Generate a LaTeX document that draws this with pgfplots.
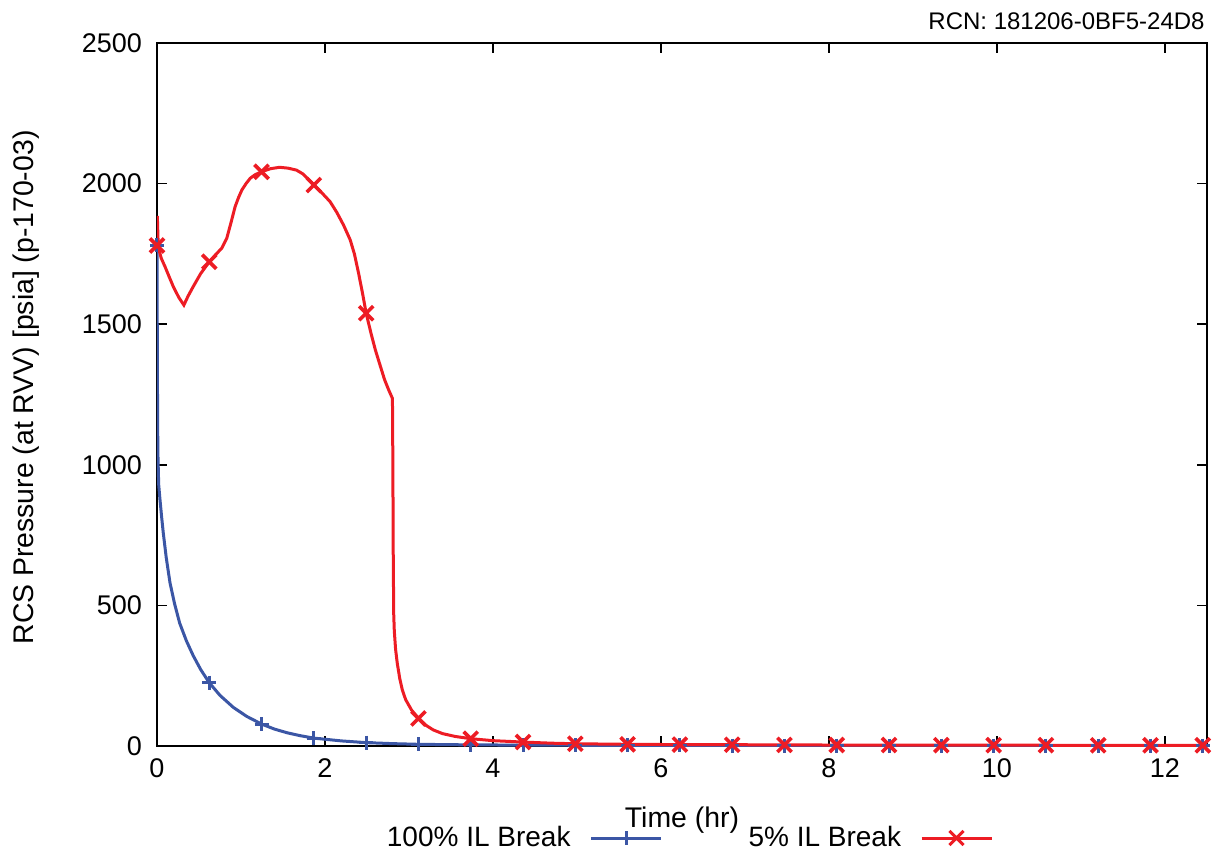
\documentclass[border=0pt]{standalone}
\usepackage{fontspec}
\setmainfont{Liberation Sans}
\usepackage{pgfplots}
\pgfplotsset{compat=1.18}
\definecolor{lblue}{RGB}{59,86,165}
\definecolor{lred}{RGB}{237,28,36}
\begin{document}
\begin{tikzpicture}
\path[use as bounding box] (-78.5pt,-56.5pt) rectangle (530pt,373pt);
\begin{axis}[
  name=ax,
  scale only axis,
  width=525pt, height=351.5pt,
  xmin=0, xmax=12.5, ymin=0, ymax=2500,
  xtick={0,2,...,12}, ytick={0,500,...,2500},
  minor tick num=0,
  tick align=inside,
  major tick length=5pt,
  tick style={black, line width=0.8pt},
  axis line style={line width=1pt},
  /pgf/number format/assume math mode=true,
  /pgf/number format/1000 sep={},
  tick label style={font=\fontsize{13.5}{16}\selectfont},
  xticklabel style={yshift=-3pt},
  yticklabel style={xshift=-4pt},
  xlabel={Time (hr)},
  ylabel={RCS Pressure (at RVV) [psia] (p-170-03)},
  label style={font=\fontsize{14.2}{16}\selectfont},
  xlabel style={at={(axis description cs:0.5,0)}, anchor=center, yshift=-37pt},
  ylabel style={at={(axis description cs:-0.1245,0.51)}, anchor=center},
  legend plot pos=right,
  legend columns=2,
  legend style={at={(0.5,0)}, anchor=center, yshift=-46pt, xshift=3pt, draw=none, fill=none,
    font=\fontsize{14}{16}\selectfont,
    /tikz/every even column/.append style={column sep=41pt}},
  legend image code/.code={\path (0pt,0pt); \draw[mark repeat=2,mark phase=2,#1] plot coordinates {(7.5pt,0pt) (25pt,0pt) (42.5pt,0pt)};},
]
% 100% IL Break
\addplot[lblue, line width=1.5pt, forget plot] coordinates {
(0,1780) (0.002,1600) (0.005,1300) (0.01,1050) (0.02,930) (0.036,875)
(0.055,815) (0.075,757) (0.11,670) (0.155,580) (0.21,505) (0.27,437)
(0.35,374) (0.43,322) (0.52,272) (0.6225,225) (0.75,180) (0.91,137)
(1.07,105) (1.245,78) (1.4,60) (1.55,47) (1.7,37) (1.8675,28) (2.2,18)
(2.49,12) (2.8,8.5) (3.1125,6) (3.735,4) (4.5,3) (6,2) (8,1.5) (10,1.2)
(12.45,1)
};
\addplot[lblue, only marks, mark=+, mark size=3.5pt, line width=1.5pt, forget plot] coordinates {
(0,1780) (0.6225,225) (1.245,78) (1.8675,28) (2.49,12) (3.1125,6) (3.735,4)
(4.3575,3) (4.98,2.5) (5.6025,2) (6.225,2) (6.8475,1.8) (7.47,1.6) (8.0925,1.5)
(8.715,1.4) (9.3375,1.3) (9.96,1.2) (10.5825,1.1) (11.205,1.1) (11.8275,1) (12.45,1)
};
% 5% IL Break
\addplot[lred, line width=1.5pt, forget plot] coordinates {
(0,1780) (0.004,1885) (0.015,1775) (0.05,1735) (0.095,1705) (0.15,1665)
(0.195,1633) (0.26,1595) (0.32,1568) (0.37,1600) (0.43,1633) (0.52,1680)
(0.6225,1722) (0.7,1748) (0.77,1770) (0.83,1805) (0.88,1860) (0.93,1918)
(0.97,1950) (1.01,1977) (1.06,2000) (1.11,2019) (1.17,2032) (1.245,2042)
(1.35,2053) (1.46,2058) (1.56,2055) (1.66,2048) (1.74,2034) (1.8675,1995)
(1.96,1968) (2.06,1936) (2.14,1898) (2.22,1853) (2.30,1800) (2.35,1750)
(2.40,1681) (2.45,1605) (2.49,1539) (2.55,1465) (2.60,1408) (2.66,1350)
(2.71,1302) (2.76,1265) (2.803,1236) (2.808,1000) (2.812,700) (2.818,470)
(2.825,410) (2.84,345) (2.86,295) (2.89,240) (2.92,200) (2.96,165)
(3.03,128) (3.1125,98) (3.2,74) (3.29,57) (3.4,44) (3.55,34) (3.735,26)
(4.0,19) (4.3575,14) (4.7,10) (4.98,8) (5.6,6) (6.225,5) (7,4.5) (8,3.5)
(9,3) (10,3) (11,2.5) (12.45,2.5)
};
\addplot[lred, only marks, mark=x, mark size=5pt, line width=1.8pt, forget plot] coordinates {
(0,1780) (0.6225,1722) (1.245,2042) (1.8675,1995) (2.49,1539) (3.1125,98)
(3.735,26) (4.3575,14) (4.98,8) (5.6025,6) (6.225,5) (6.8475,4.5) (7.47,4)
(8.0925,3.5) (8.715,3.5) (9.3375,3) (9.96,3) (10.5825,3) (11.205,2.5)
(11.8275,2.5) (12.45,2.5)
};
\addlegendimage{lblue, line width=1.5pt, mark=+, mark size=3.5pt}
\addlegendentry{100\% IL Break}
\addlegendimage{lred, line width=1.5pt, mark=x, mark size=5pt}
\addlegendentry{5\% IL Break}
\end{axis}
\node[anchor=east, inner sep=0pt, font=\fontsize{12}{14}\selectfont] at ([yshift=11pt,xshift=-1pt]ax.north east) {RCN: 181206-0BF5-24D8};
\end{tikzpicture}
\end{document}
